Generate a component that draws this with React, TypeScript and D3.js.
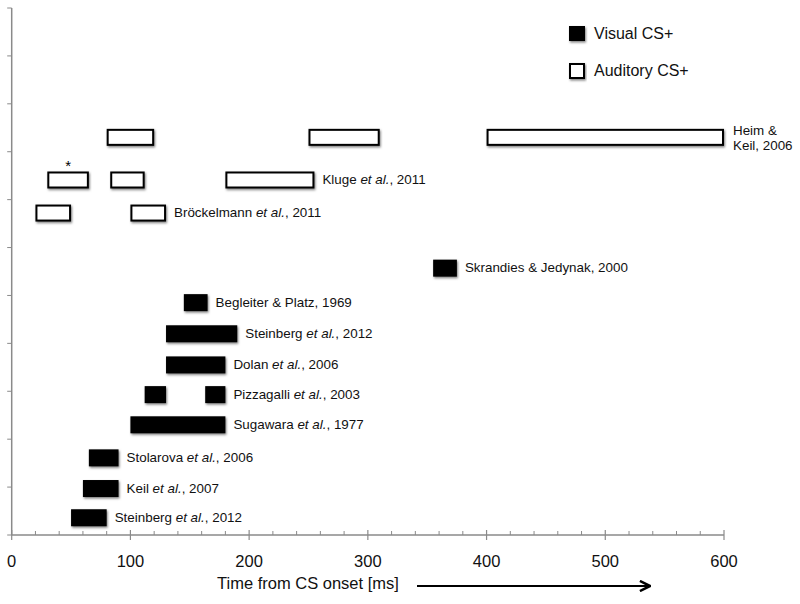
import React from "react";
import * as d3 from "d3";

// visual CS+ studies (bottom to top)
const visualStudies = [
  "Steinberg et al., 2012",
  "Keil et al., 2007",
  "Stolarova et al., 2006",
  "Sugawara et al., 1977",
  "Pizzagalli et al., 2003",
  "Dolan et al., 2006",
  "Steinberg et al., 2012",
  "Begleiter & Platz, 1969",
  "Skrandies & Jedynak, 2000",
];
const visualRows = [0.36, 0.97, 1.61, 2.3, 2.93, 3.55, 4.2, 4.85, 5.57];
const visualWindows = [
  [[50, 80]],
  [[60, 90]],
  [[65, 90]],
  [[100, 180]],
  [[112, 130], [163, 180]],
  [[130, 180]],
  [[130, 190]],
  [[145, 165]],
  [[355, 375]],
];

// auditory CS+ studies (bottom to top)
const auditoryLabels = [
  ["Bröckelmann et al., 2011"],
  ["Kluge et al., 2011"],
  ["Heim &", "Keil, 2006"],
];
const auditoryRows = [6.72, 7.41, 8.3];
const auditoryWindows = [
  [[20, 50], [100, 130]],
  [[30, 65], [83, 112], [180, 255]],
  [[80, 120], [250, 310], [400, 600]],
];
// asterisk over kluge, first window
const starred = { study: 1, win: 0 };

const legendItems = ["Visual CS+", "Auditory CS+"];
const xTitle = "Time from CS onset [ms]";

const W = 800;
const H = 604;
const font = "'Liberation Sans', Arial, Helvetica, sans-serif";
const axisColor = "#8a8a8a";

function Label({ x, y, text }) {
  const parts = text.split("et al.");
  return (
    <text x={x} y={y} fontSize={13.4} fontFamily={font} fill="#111" dominantBaseline="middle">
      {parts.map((p, i) => (
        <React.Fragment key={i}>
          {i > 0 && <tspan fontStyle="italic">et al.</tspan>}
          <tspan>{p}</tspan>
        </React.Fragment>
      ))}
    </text>
  );
}

export default function App() {
  const x = d3.scaleLinear().domain([0, 600]).range([11.7, 724]);
  const y = d3.scaleLinear().domain([0, 11]).range([535, 8]);
  const majorTicks = x.ticks(6);
  const minorTicks = d3.range(0, 601, 20).filter((v) => v % 100 !== 0);
  const yTicks = d3.range(0, 12);
  const barH = 17;
  const boxH = 15;

  return (
    <svg width={W} height={H} style={{ position: "absolute", left: 0, top: 0, background: "#fff" }}>
      <defs>
        <filter id="shadow" x="-10%" y="-30%" width="130%" height="180%">
          <feDropShadow dx="1" dy="1.5" stdDeviation="1" floodColor="#000" floodOpacity="0.5" />
        </filter>
        <marker id="arrow" viewBox="0 0 10 10" refX="9" refY="5" markerWidth="7" markerHeight="7" orient="auto">
          <path d="M1,1 L9,5 L1,9" fill="none" stroke="#000" strokeWidth="2" />
        </marker>
      </defs>

      {/* y axis */}
      <line x1={x(0)} x2={x(0)} y1={y(11)} y2={y(0)} stroke={axisColor} strokeWidth={1.5} />
      {yTicks.map((t) => (
        <line key={t} x1={x(0) - 4.5} x2={x(0)} y1={y(t)} y2={y(t)} stroke={axisColor} strokeWidth={1} />
      ))}

      {/* x axis */}
      <line x1={x(0)} x2={x(600)} y1={y(0)} y2={y(0)} stroke={axisColor} strokeWidth={1.5} />
      {majorTicks.map((t) => (
        <g key={t}>
          <line x1={x(t)} x2={x(t)} y1={y(0) - 5} y2={y(0) + 5} stroke={axisColor} strokeWidth={1.2} />
          <text x={x(t)} y={567} textAnchor="middle" fontSize={16.5} fontFamily={font} fill="#111">
            {t}
          </text>
        </g>
      ))}
      {minorTicks.map((t) => (
        <line key={t} x1={x(t)} x2={x(t)} y1={y(0) - 4} y2={y(0)} stroke={axisColor} strokeWidth={1} />
      ))}
      <text x={217} y={589} fontSize={16.5} fontFamily={font} fill="#111">
        {xTitle}
      </text>
      <line x1={417} x2={650} y1={586} y2={586} stroke="#000" strokeWidth={1.8} markerEnd="url(#arrow)" />

      {/* visual bars */}
      {visualStudies.map((name, i) => {
        const cy = y(visualRows[i]);
        const wins = visualWindows[i];
        const end = wins[wins.length - 1][1];
        return (
          <g key={"v" + i}>
            {wins.map((w, j) => (
              <rect
                key={j}
                x={x(w[0])}
                y={cy - barH / 2}
                width={x(w[1]) - x(w[0])}
                height={barH}
                fill="#000"
                filter="url(#shadow)"
              />
            ))}
            <Label x={x(end) + 8} y={cy} text={name} />
          </g>
        );
      })}

      {/* auditory boxes */}
      {auditoryLabels.map((lines, i) => {
        const cy = y(auditoryRows[i]);
        const wins = auditoryWindows[i];
        const end = wins[wins.length - 1][1];
        return (
          <g key={"a" + i}>
            {wins.map((w, j) => (
              <rect
                key={j}
                x={x(w[0]) + 1}
                y={cy - boxH / 2}
                width={x(w[1]) - x(w[0]) - 2}
                height={boxH}
                fill="#fff"
                stroke="#000"
                strokeWidth={2}
                filter="url(#shadow)"
              />
            ))}
            {lines.length === 1 ? (
              <Label x={x(end) + 8} y={cy} text={lines[0]} />
            ) : (
              lines.map((l, k) => (
                <Label key={k} x={x(end) + 9} y={cy - 6 + k * 14.5} text={l} />
              ))
            )}
            {starred.study === i && (
              <text
                x={x((wins[starred.win][0] + wins[starred.win][1]) / 2)}
                y={cy - 9}
                textAnchor="middle"
                fontSize={15}
                fontFamily={font}
              >
                *
              </text>
            )}
          </g>
        );
      })}

      {/* legend */}
      {legendItems.map((item, i) => (
        <g key={item} transform={`translate(569, ${26 + i * 37})`}>
          <rect
            x={i === 0 ? 0 : 1}
            y={i === 0 ? 0 : 1}
            width={i === 0 ? 16 : 14}
            height={i === 0 ? 15 : 14}
            fill={i === 0 ? "#000" : "#fff"}
            stroke={i === 0 ? "none" : "#000"}
            strokeWidth={2}
            filter="url(#shadow)"
          />
          <text x={25} y={12.5} fontSize={16} fontFamily={font} fill="#111">
            {item}
          </text>
        </g>
      ))}
    </svg>
  );
}
